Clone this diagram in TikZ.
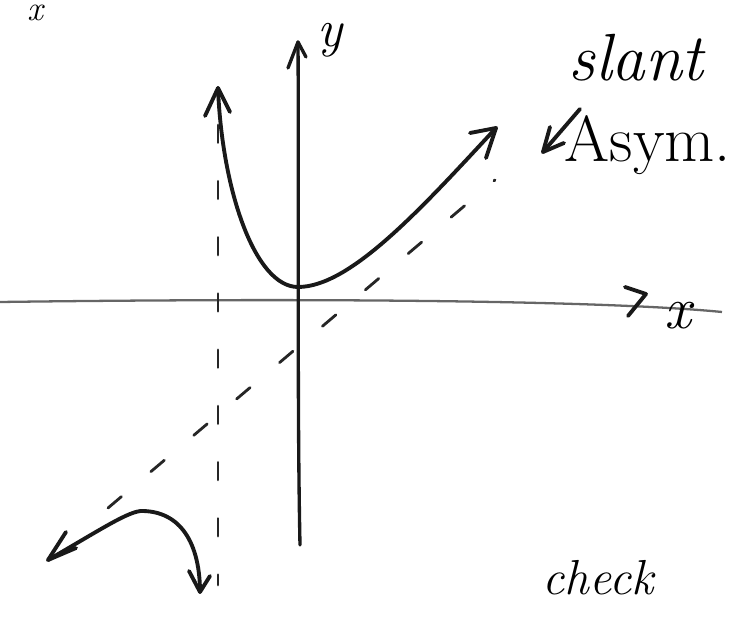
\documentclass[tikz,border=0pt]{standalone}
\usepackage{fontspec}
\usetikzlibrary{arrows.meta}
\tikzset{
  pen/.style={line width=2.2pt, line cap=round, line join=round, black!90},
  axisline/.style={line width=1.3pt, gray!80!black},
  asym/.style={line width=1.6pt, black!85, dash pattern=on 10pt off 22pt, line cap=round},
  lbl/.style={inner sep=0pt, font=\itshape}
}
\begin{document}
\begin{tikzpicture}[x=0.02cm,y=-0.02cm]
\useasboundingbox (0,0) rectangle (735,624);
% axes
\coordinate (xl) at (0,302);
\coordinate (xr) at (722,312);
\draw[axisline] (xl) .. controls (300,298) and (600,300) .. (xr);
\draw[pen] (625,287) -- (646,294) -- (628,316);
\node[lbl, font=\itshape\fontsize{34}{36}\selectfont] (xlab) at (678,316) {x};
\coordinate (yb) at (300,545);
\coordinate (yt) at (298,42);
\draw[pen, line width=1.9pt] (yb) .. controls (297,400) and (299,200) .. (yt);
\draw[pen, line width=1.9pt] (288,68) -- (yt) -- (306,57);
\node[lbl, font=\itshape\fontsize{30}{32}\selectfont] (ylab) at (330,40) {y};
% top-left fragment
\node[lbl, font=\itshape\fontsize{20}{22}\selectfont, anchor=north] (frag) at (35,5) {x};
% asymptotes
\coordinate (va) at (218,125);
\coordinate (vb) at (218,585);
\draw[asym] (va) -- (vb);
\coordinate (sa) at (108,508);
\coordinate (sb) at (495,180);
\draw[asym] (sa) -- (sb);
% upper branch
\coordinate (ua) at (218,88);
\coordinate (umin) at (298,287);
\coordinate (ub) at (496,128);
\draw[pen] (ua) .. controls (222,190) and (255,287) .. (umin)
  .. controls (350,287) and (420,210) .. (ub);
\draw[pen] (205,116) -- (ua) -- (230,112);
\draw[pen] (470,133) -- (ub) -- (486,158);
% lower branch
\coordinate (la) at (48,560);
\coordinate (lb) at (200,592);
\draw[pen] (la) .. controls (100,530) and (130,510) .. (143,511)
  .. controls (185,512) and (200,550) .. (lb);
\draw[pen] (66,532) -- (la) -- (76,548);
\draw[pen] (189,571) -- (lb) -- (210,576);
% labels
\node[lbl, font=\itshape\fontsize{38}{40}\selectfont] (slant) at (636,58) {slant};
\node[lbl, font=\fontsize{37}{39}\selectfont] (asymt) at (648,145) {Asym.};
\coordinate (pa) at (580,109);
\coordinate (pb) at (543,152);
\draw[pen] (pa) -- (pb);
\draw[pen] (550,127) -- (pb) -- (564,143);
\node[lbl, font=\itshape\fontsize{28}{30}\selectfont] (check) at (598,578) {check};
\end{tikzpicture}
\end{document}
